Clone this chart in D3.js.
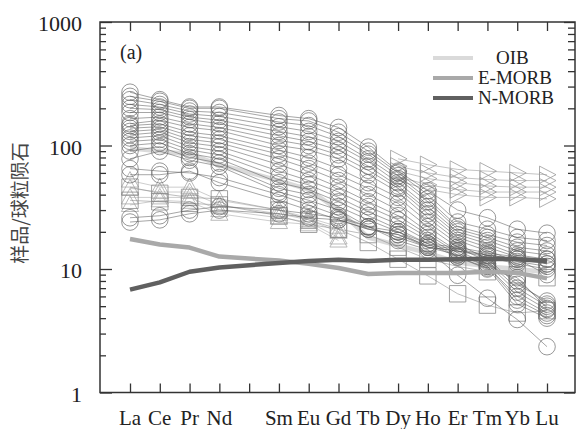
<!DOCTYPE html>
<html>
<head>
<meta charset="utf-8">
<script src="https://cdn.jsdelivr.net/npm/d3@7"></script>
<style>
  html, body { margin: 0; padding: 0; background: #fff; }
  svg { display: block; }
  .serif { font-family: 'Liberation Serif', 'DejaVu Serif', serif; }
  .cjk { font-family: 'Noto Sans CJK SC', sans-serif; }
</style>
</head>
<body>
<div id="chart"></div>
<script>
// element slots on the x axis (Pm has a tick but no data or label)
const elements = ['La', 'Ce', 'Pr', 'Nd', 'Pm', 'Sm', 'Eu', 'Gd', 'Tb', 'Dy', 'Ho', 'Er', 'Tm', 'Yb', 'Lu'];
const tickLabels = ['La', 'Ce', 'Pr', 'Nd', '', 'Sm', 'Eu', 'Gd', 'Tb', 'Dy', 'Ho', 'Er', 'Tm', 'Yb', 'Lu'];
const ree = ['La', 'Ce', 'Pr', 'Nd', 'Sm', 'Eu', 'Gd', 'Tb', 'Dy', 'Ho', 'Er', 'Tm', 'Yb', 'Lu'];
const yMajorTicks = [1, 10, 100, 1000];

// circle samples, La..Lu
const circleSamples = [
    [270, 235, 205, 205, 175, 165, 140, 97, 62, 43, 30, 26, 21, 19.5],
    [250, 228, 200, 200, 165, 158, 128, 90, 60, 40, 24, 21, 18, 17],
    [235, 215, 190, 185, 155, 145, 118, 85, 57, 37, 22, 19, 16.5, 15.5],
    [215, 205, 180, 172, 142, 130, 108, 78, 54, 35, 21, 18, 15, 14],
    [200, 195, 170, 160, 130, 118, 100, 74, 50, 32, 20, 17, 14, 13],
    [185, 185, 162, 150, 120, 108, 92, 68, 47, 30, 19, 16, 13, 12],
    [165, 170, 150, 140, 110, 100, 84, 63, 45, 28, 18, 15, 12.5, 11],
    [150, 160, 140, 132, 100, 92, 78, 58, 42, 26, 17, 14, 11.5, 10.5],
    [145, 150, 128, 120, 92, 80, 65, 50, 38, 24, 16, 12, 7.5, 5.5],
    [138, 142, 120, 112, 85, 72, 58, 45, 34, 22, 15, 11.5, 7, 5],
    [130, 135, 112, 105, 78, 65, 52, 40, 30, 20, 14, 11, 6.5, 4.7],
    [122, 128, 105, 98, 70, 58, 46, 35, 27, 19, 13.5, 10.5, 6, 4.4],
    [115, 120, 98, 90, 62, 52, 42, 32, 25, 18, 13, 10.5, 5.6, 4.2],
    [108, 112, 92, 84, 56, 48, 38, 29, 23, 17, 12.5, 10.2, 5.2, 4],
    [100, 105, 86, 78, 50, 44, 35, 27, 21, 16, 12.5, 10, 8.5, 4.8],
    [90, 98, 80, 72, 45, 40, 32, 25, 20, 15, 13, 11, 8, 5.2],
    [78, 90, 76, 68, 42, 36, 30, 22, 17, 14.3, 8.9, 5.8, 3.9, 2.35],
    [65, 62, 60, 55, 40, 33, 27, 22, 18, 15, 14, 12.5, 11, 10],
    [58, 58, 62, 50, 36, 30, 25, 21, 19, 15.5, 14.5, 13, 12, 9],
    [26, 27, 30, 32, 30, 28, 26, 22, 20, 16, 15, 13.5, 12.5, 12],
    [24, 25, 28, 30, 28, 26, 25, 21, 19, 15, 14, 13, 12, 11]
];

// square samples, La..Lu
const squareSamples = [
    [46, 41, 38, 37, 30, 25, 21, 16.4, 12, 8.8, 6.3, 5.1, 4.4, 4.6],
    [36, 35, 34, 33, 27, 23, 21, 19, 15, 12, 10.5, 9.5, 9, 8.5]
];

// up-triangle samples, La..Gd
const triUpElements = ['La', 'Ce', 'Pr', 'Nd', 'Sm', 'Eu', 'Gd'];
const triUpSamples = [
    [52, 46, 46, 36, 30, 26, 22],
    [45, 42, 42, 33, 28, 25, 20],
    [38, 38, 38, 30, 26, 24, 18],
    [33, 36, 35, 28, 24, 23, 17]
];

// right-triangle samples, Dy..Lu
const triRightElements = ['Dy', 'Ho', 'Er', 'Tm', 'Yb', 'Lu'];
const triRightSamples = [
    [78, 70, 64, 62, 60, 58],
    [68, 60, 55, 53, 52, 52],
    [62, 54, 50, 47, 46, 46],
    [56, 48, 44, 42, 42, 42],
    [52, 44, 40, 38, 38, 37]
];

// reference patterns, La..Lu
const oib = [95, 90, 85, 70, 52, 44, 30, 18, 15.5, 13.5, 11.3, 10.5, 10, 9.4];
const eMorb = [17.5, 15.8, 14.9, 12.6, 11.7, 11, 10.2, 9.1, 9.3, 9.3, 9.3, 9.5, 9.3, 8.4];
const nMorb = [6.8, 7.8, 9.5, 10.3, 11.2, 11.6, 11.9, 11.6, 11.9, 11.9, 12, 12.1, 12, 11.6];

const references = [
    { name: 'OIB', values: oib, color: '#dadada' },
    { name: 'E-MORB', values: eMorb, color: '#a9a9a9' },
    { name: 'N-MORB', values: nMorb, color: '#606060' }
];

const WIDTH = 576;
const HEIGHT = 429;

document.addEventListener('DOMContentLoaded', drawChart);

function toPoints(names, values) {
    return names.map((name, i) => ({ name, value: values[i] }));
}

function drawChart() {
    const frame = { left: 100, right: 575, top: 22, bottom: 392.5 };

    const x = d3.scalePoint()
        .domain(elements)
        .range([130, 547]);

    const y = d3.scaleLog()
        .domain([1, 1000])
        .range([frame.bottom, frame.top]);

    const svg = d3.select('#chart')
        .append('svg')
        .attr('width', WIDTH)
        .attr('height', HEIGHT);

    const line = d3.line()
        .x((d) => x(d.name))
        .y((d) => y(d.value));

    const plot = svg.append('g');

    const drawReference = (ref) => {
        plot.append('path')
            .datum(toPoints(ree, ref.values))
            .attr('d', line)
            .attr('fill', 'none')
            .attr('stroke', ref.color)
            .attr('stroke-width', 4.5)
            .attr('stroke-linejoin', 'round');
    };

    const drawGroup = (samples, names, opts) => {
        const g = plot.append('g');
        samples.forEach((values) => {
            const pts = toPoints(names, values);
            g.append('path')
                .datum(pts)
                .attr('d', line)
                .attr('fill', 'none')
                .attr('stroke', opts.lineColor)
                .attr('stroke-width', 0.7)
                .attr('stroke-opacity', opts.lineOpacity);

            g.selectAll(null)
                .data(pts)
                .enter()
                .append('path')
                .attr('transform', (d) => `translate(${x(d.name)},${y(d.value)})`)
                .attr('d', opts.shape)
                .attr('fill', 'none')
                .attr('stroke', opts.markerColor)
                .attr('stroke-width', 0.8)
                .attr('stroke-opacity', opts.markerOpacity);
        });
    };

    const circlePath = d3.symbol().type(d3.symbolCircle).size(Math.PI * 8.3 * 8.3)();
    const squarePath = 'M-8.2,-8.2H8.2V8.2H-8.2Z';
    const triUpPath = 'M0,-9L8.6,6.5H-8.6Z';
    const triRightPath = 'M-7.5,-8.6L9,0L-7.5,8.6Z';

    // OIB sits under the samples, the MORB curves above them
    drawReference(references[0]);

    drawGroup(triUpSamples, triUpElements, {
        shape: triUpPath, lineColor: '#b0b0b0', lineOpacity: 0.9, markerColor: '#a8a8a8', markerOpacity: 1
    });
    drawGroup(triRightSamples, triRightElements, {
        shape: triRightPath, lineColor: '#a0a0a0', lineOpacity: 0.9, markerColor: '#999', markerOpacity: 1
    });
    drawGroup(squareSamples, ree, {
        shape: squarePath, lineColor: '#888', lineOpacity: 0.8, markerColor: '#8a8a8a', markerOpacity: 1
    });
    drawGroup(circleSamples, ree, {
        shape: circlePath, lineColor: '#555', lineOpacity: 0.75, markerColor: '#666', markerOpacity: 0.85
    });

    drawReference(references[1]);
    drawReference(references[2]);

    // frame and ticks
    const axisColor = '#333';
    const minorTicks = [];
    [1, 10, 100].forEach((base) => {
        for (let k = 2; k <= 9; k += 1) minorTicks.push(base * k);
    });

    const yAxisLeft = d3.axisRight(y).tickValues(yMajorTicks).tickSize(12).tickFormat('');
    const yAxisLeftMinor = d3.axisRight(y).tickValues(minorTicks).tickSize(6).tickFormat('');
    const yAxisRight = d3.axisLeft(y).tickValues(yMajorTicks).tickSize(11).tickFormat('');
    const yAxisRightMinor = d3.axisLeft(y).tickValues(minorTicks).tickSize(7).tickFormat('');
    const xAxisBottom = d3.axisTop(x).tickSize(9).tickFormat('');
    const xAxisTop = d3.axisBottom(x).tickSize(9).tickFormat('');

    const axes = svg.append('g');
    const styleAxis = (g) => {
        g.select('.domain').remove();
        g.selectAll('line').attr('stroke', axisColor).attr('stroke-width', 1.3);
    };

    axes.append('g').attr('transform', `translate(${frame.left},0)`).call(yAxisLeft).call(styleAxis);
    axes.append('g').attr('transform', `translate(${frame.left},0)`).call(yAxisLeftMinor).call(styleAxis);
    axes.append('g').attr('transform', `translate(${frame.right},0)`).call(yAxisRight).call(styleAxis);
    axes.append('g').attr('transform', `translate(${frame.right},0)`).call(yAxisRightMinor).call(styleAxis);
    axes.append('g').attr('transform', `translate(0,${frame.bottom})`).call(xAxisBottom).call(styleAxis);
    axes.append('g').attr('transform', `translate(0,${frame.top})`).call(xAxisTop).call(styleAxis);

    axes.append('rect')
        .attr('x', frame.left)
        .attr('y', frame.top)
        .attr('width', frame.right - frame.left)
        .attr('height', frame.bottom - frame.top)
        .attr('fill', 'none')
        .attr('stroke', axisColor)
        .attr('stroke-width', 1.5);

    // tick labels
    svg.append('g')
        .selectAll('text')
        .data(yMajorTicks)
        .enter()
        .append('text')
        .attr('class', 'serif')
        .attr('x', 82)
        .attr('y', (d) => y(d) + 9)
        .attr('text-anchor', 'end')
        .attr('font-size', 22)
        .attr('fill', '#222')
        .text((d) => d);

    svg.append('g')
        .selectAll('text')
        .data(elements)
        .enter()
        .append('text')
        .attr('class', 'serif')
        .attr('x', (d) => x(d))
        .attr('y', 425)
        .attr('text-anchor', 'middle')
        .attr('font-size', 21)
        .attr('fill', '#222')
        .text((d, i) => tickLabels[i]);

    svg.append('text')
        .attr('class', 'cjk')
        .attr('transform', 'translate(27,203) rotate(-90)')
        .attr('text-anchor', 'middle')
        .attr('font-size', 19)
        .attr('fill', '#444')
        .text('样品/球粒陨石');

    svg.append('text')
        .attr('class', 'serif')
        .attr('x', 120)
        .attr('y', 59)
        .attr('font-size', 20)
        .attr('fill', '#222')
        .text('(a)');

    // legend
    const legend = svg.append('g');
    const legendX = [496, 478, 478];
    references.forEach((ref, i) => {
        const ly = 58 + i * 20;
        legend.append('line')
            .attr('x1', 433)
            .attr('x2', 473)
            .attr('y1', ly)
            .attr('y2', ly)
            .attr('stroke', ref.color)
            .attr('stroke-width', 4);
        legend.append('text')
            .attr('class', 'serif')
            .attr('x', legendX[i])
            .attr('y', ly + 6)
            .attr('font-size', 19)
            .attr('fill', '#222')
            .text(ref.name);
    });
}
</script>
</body>
</html>
